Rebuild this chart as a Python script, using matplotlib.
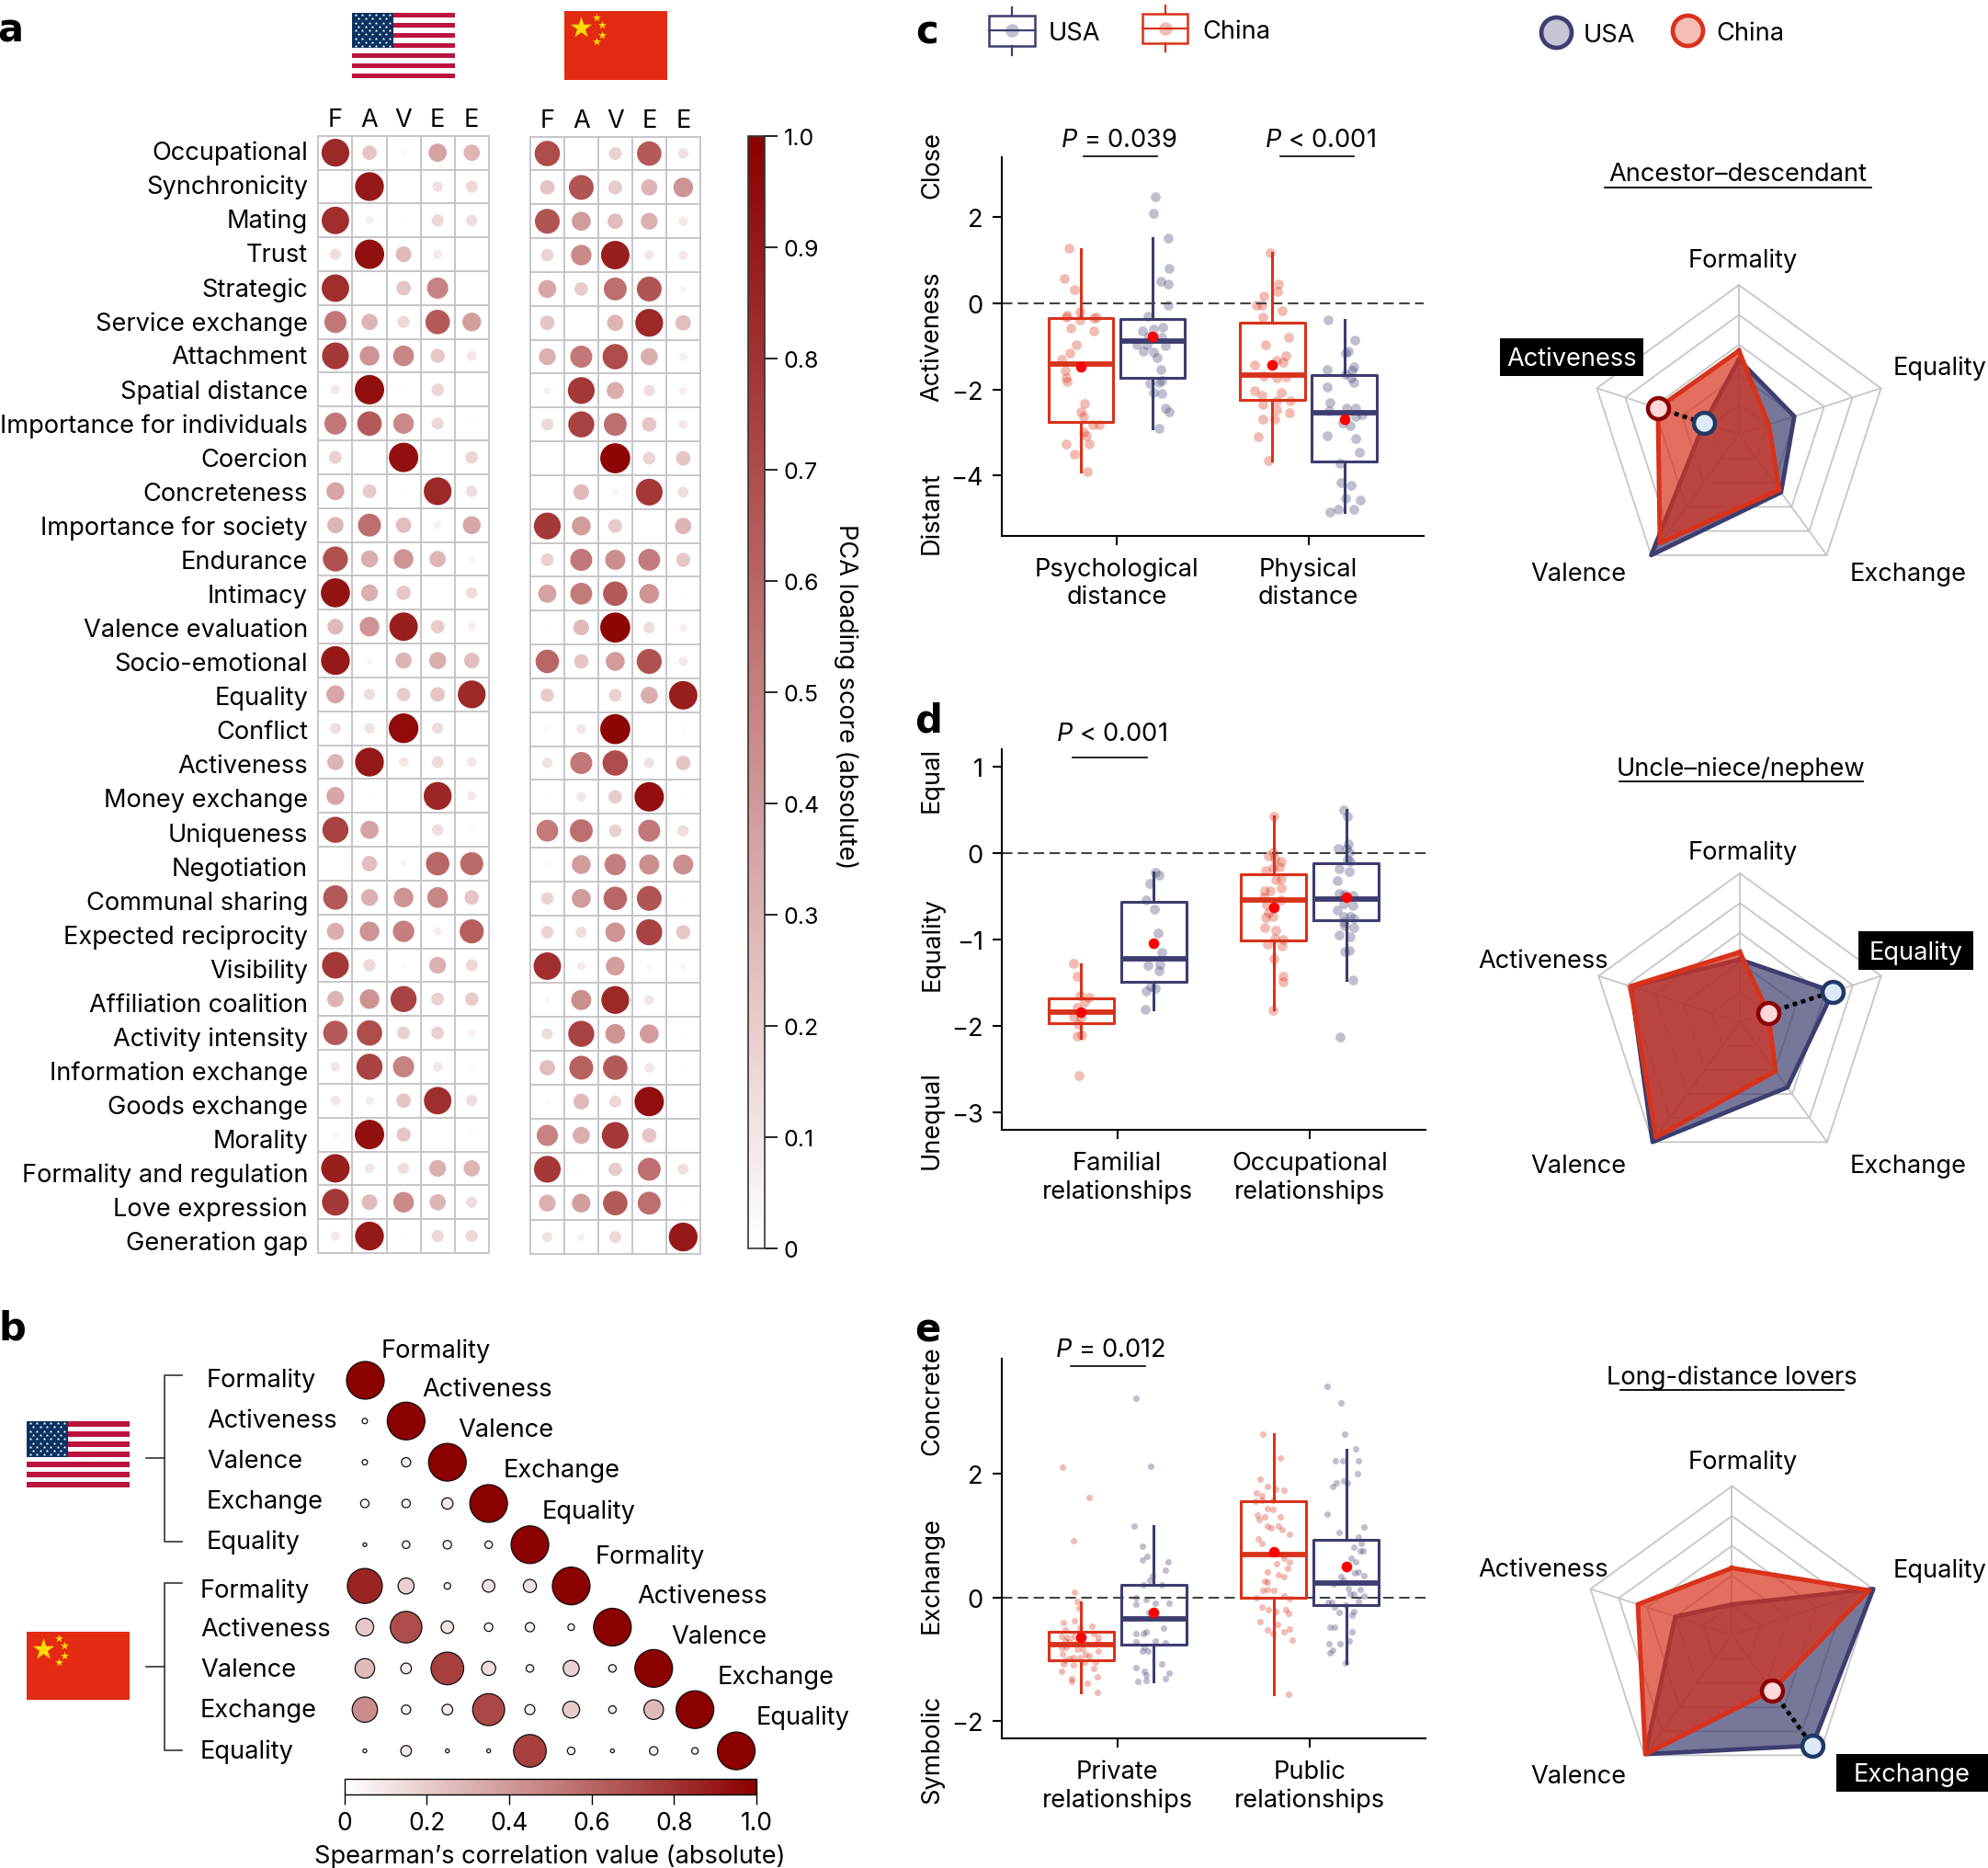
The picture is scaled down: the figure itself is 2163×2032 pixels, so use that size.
import numpy as np
import matplotlib
matplotlib.use("Agg")
import matplotlib.pyplot as plt
from matplotlib.colors import LinearSegmentedColormap, Normalize
from matplotlib.cm import ScalarMappable
from matplotlib.patches import Rectangle

plt.rcParams['font.family'] = ['Inter', 'Noto Sans', 'DejaVu Sans']
plt.rcParams['mathtext.fontset'] = 'custom'
plt.rcParams['mathtext.rm'] = 'Inter'
plt.rcParams['mathtext.it'] = 'Inter:italic'
plt.rcParams['font.size'] = 19.6

W, H = 2163, 2033
FS = 19.6
USA = '#3d3d70'
CHINA = '#d9321b'
GRID = '#c6c6c6'
reds = LinearSegmentedColormap.from_list('reds', ['#ffffff', '#8b0000'])

# panel a, PCA loadings
rows_a = ['Occupational', 'Synchronicity', 'Mating', 'Trust', 'Strategic', 'Service exchange',
          'Attachment', 'Spatial distance', 'Importance for individuals', 'Coercion', 'Concreteness',
          'Importance for society', 'Endurance', 'Intimacy', 'Valence evaluation', 'Socio-emotional',
          'Equality', 'Conflict', 'Activeness', 'Money exchange', 'Uniqueness', 'Negotiation',
          'Communal sharing', 'Expected reciprocity', 'Visibility', 'Affiliation coalition',
          'Activity intensity', 'Information exchange', 'Goods exchange', 'Morality',
          'Formality and regulation', 'Love expression', 'Generation gap']
cols_a = ['F', 'A', 'V', 'E', 'E']
usa_loadings = [
    [.84, .23, .03, .36, .29], [.01, .90, .00, .12, .16], [.82, .07, .01, .16, .14], [.14, .94, .27, .09, .01],
    [.82, .01, .23, .49, .01], [.53, .29, .16, .65, .38], [.78, .42, .47, .22, .10], [.09, .94, .01, .17, .01],
    [.53, .65, .46, .16, .02], [.18, .00, .94, .00, .17], [.35, .21, .02, .84, .14], [.29, .57, .26, .06, .35],
    [.68, .32, .42, .29, .05], [.92, .31, .22, .01, .14], [.27, .42, .88, .20, .07], [.90, .04, .29, .32, .26],
    [.35, .14, .20, .23, .84], [.13, .12, .96, .14, .01], [.29, .90, .10, .15, .10], [.35, .01, .00, .85, .09],
    [.74, .36, .00, .14, .03], [.00, .26, .05, .60, .58], [.65, .31, .42, .47, .23], [.32, .42, .50, .07, .63],
    [.78, .16, .03, .31, .16], [.29, .42, .74, .18, .20], [.65, .70, .18, .18, .07], [.10, .74, .49, .10, .03],
    [.10, .08, .23, .82, .14], [.05, .94, .22, .00, .02], [.88, .10, .14, .31, .29], [.78, .27, .46, .29, .14],
    [.09, .90, .01, .16, .16]]
china_loadings = [
    [.70, .00, .18, .65, .12], [.23, .67, .21, .29, .42], [.67, .39, .26, .31, .09], [.17, .46, .88, .10, .09],
    [.35, .20, .57, .67, .05], [.23, .00, .29, .84, .26], [.31, .53, .70, .32, .07], [.06, .78, .32, .14, .07],
    [.16, .74, .57, .23, .09], [.00, .00, .98, .17, .23], [.00, .27, .05, .78, .13], [.78, .39, .21, .00, .29],
    [.18, .53, .44, .52, .22], [.36, .52, .65, .42, .01], [.01, .27, .98, .14, .07], [.60, .23, .39, .68, .09],
    [.20, .00, .18, .32, .88], [.03, .10, .98, .00, .02], [.12, .53, .70, .12, .23], [.02, .10, .20, .94, .01],
    [.52, .57, .18, .53, .14], [.03, .39, .50, .44, .44], [.17, .39, .60, .67, .01], [.17, .14, .42, .74, .22],
    [.82, .08, .38, .04, .05], [.04, .44, .84, .10, .01], [.14, .74, .42, .39, .01], [.26, .62, .65, .10, .01],
    [.03, .27, .16, .94, .00], [.49, .32, .78, .23, .00], [.78, .01, .20, .57, .13], [.31, .38, .65, .57, .01],
    [.12, .06, .16, .00, .90]]

# panel b, lower triangle of spearman correlations
spearman = [
    [1],
    [.02, 1],
    [.02, .06, 1],
    [.05, .05, .09, 1],
    [.01, .04, .05, .04, 1],
    [.86, .18, .03, .11, .12, 1],
    [.22, .70, .11, .05, .06, .03, 1],
    [.27, .08, .75, .14, .04, .18, .04, 1],
    [.45, .06, .08, .72, .07, .20, .04, .27, 1],
    [.01, .08, .01, .01, .75, .04, .01, .05, .03, 1]]
dims_b = ['Formality', 'Activeness', 'Valence', 'Exchange', 'Equality']

# panels c to e, box stats are q1, median, q3, whisker low, whisker high, mean
box_c = [(-2.76, -1.42, -.34, -3.91, 1.26, -1.48), (-1.72, -.88, -.36, -2.91, 1.51, -.77),
         (-2.24, -1.67, -.44, -3.65, 1.18, -1.43), (-3.67, -2.54, -1.66, -4.85, -.39, -2.70)]
box_d = [(-1.97, -1.84, -1.68, -2.14, -1.29, -1.84), (-1.49, -1.22, -.57, -1.81, -.22, -1.04),
         (-1.01, -.54, -.25, -1.81, .43, -.63), (-.78, -.53, -.12, -1.47, .50, -.51)]
box_e = [(-1.01, -.76, -.56, -1.53, -.08, -.65), (-.76, -.34, .20, -1.36, 1.16, -.24),
         (-.01, .70, 1.56, -1.56, 2.64, .74), (-.12, .23, .93, -1.06, 2.39, .50)]

# jittered points as (offset from box centre, value)
c_psych_china = [(-.06, 1.28), (-.087, .57), (-.035, .32), (-.004, -.20), (-.069, -.27), (-.078, -.31), (-.004, -.39),
                 (.082, -.32), (.069, -.34), (-.053, -.58), (.067, -.64), (-.023, -.96), (-.057, -1.16), (-.099, -1.30),
                 (-.082, -1.55), (-.076, -1.73), (-.071, -1.82), (.018, -2.32), (.002, -2.52), (.016, -2.63), (.064, -2.81),
                 (.098, -2.81), (.014, -3.0), (.03, -3.07), (-.078, -3.26), (.044, -3.26), (-.032, -3.5), (.035, -3.9)]
c_psych_usa = [(.012, 2.48), (.002, 2.10), (.08, 1.52), (.085, .82), (.043, .52), (.082, .44), (.078, -.05), (-.025, -.30),
               (-.053, -.64), (.051, -.56), (.005, -.6), (.046, -.79), (-.021, -.76), (-.082, -.96), (-.032, -.96), (.067, -.98),
               (-.05, -1.11), (.004, -1.13), (.023, -1.25), (.044, -1.53), (-.016, -1.85), (.048, -1.80), (.032, -1.83),
               (.004, -2.08), (.048, -2.10), (.066, -2.44), (.083, -2.53), (.03, -2.91)]
c_phys_china = [(-.009, 1.18), (.03, .44), (.025, .28), (-.046, .18), (.052, -.17), (-.085, -.05), (-.053, -.05), (-.051, -.31),
                (.087, -.80), (-.034, -.96), (.071, -1.21), (.02, -1.32), (.057, -1.36), (-.094, -1.43), (-.046, -1.69),
                (.02, -1.73), (.071, -1.71), (-.094, -2.03), (.044, -2.08), (-.053, -2.13), (.02, -2.26), (.092, -2.26),
                (-.051, -2.35), (.02, -2.47), (.089, -2.55), (-.051, -2.70), (.011, -2.70), (-.073, -3.10), (-.023, -3.65)]
c_phys_usa = [(-.083, -.38), (.053, -.86), (.021, -1.10), (.004, -1.15), (.05, -1.47), (-.09, -1.54), (.039, -1.55), (.004, -1.64),
              (.035, -1.73), (.048, -1.83), (-.092, -1.94), (-.073, -2.31), (-.08, -2.5), (.06, -2.43), (.011, -2.43),
              (.092, -2.59), (.06, -2.63), (-.007, -2.78), (.030, -2.84), (-.089, -3.08), (.057, -3.15), (.078, -3.46),
              (-.021, -3.72), (-.016, -4.16), (.034, -4.24), (.007, -4.53), (.082, -4.58), (-.032, -4.78), (.05, -4.78), (-.073, -4.85)]

d_fam_china = [(-.042, -1.28), (-.021, -1.43), (-.007, -1.65), (.041, -1.67), (.019, -1.72), (-.021, -1.79), (-.042, -1.90),
               (0, -1.91), (-.014, -1.98), (-.019, -2.12), (.004, -2.11), (-.011, -2.58)]
d_fam_usa = [(.007, -.22), (.03, -.26), (-.018, -.35), (-.037, -.54), (.004, -.65), (.025, -.93), (.044, -1.15), (-.028, -1.30),
             (.032, -1.29), (.028, -1.36), (-.014, -1.54), (.009, -1.57), (-.037, -1.60), (-.044, -1.81)]
d_occ_china = [(0, .43), (-.002, .01), (-.028, -.03), (.004, -.06), (.037, -.10), (.028, -.16), (-.004, -.17), (-.042, -.2),
               (.011, -.31), (.037, -.30), (.037, -.40), (-.046, -.44), (-.019, -.44), (-.051, -.51), (.037, -.54), (-.039, -.60),
               (-.002, -.63), (-.030, -.69), (-.005, -.73), (-.042, -.75), (-.048, -.86), (.012, -.90), (.005, -.99), (.046, -1.0),
               (-.035, -1.05), (.042, -1.08), (.002, -1.22), (.049, -1.43), (.046, -1.49), (-.002, -1.82)]
d_occ_usa = [(-.012, .50), (.007, .42), (.012, .11), (-.042, .05), (0, .05), (.016, .01), (.005, -.07), (.023, -.10), (-.035, -.18),
             (.016, -.21), (-.044, -.32), (-.035, -.47), (-.009, -.48), (.035, -.49), (-.014, -.59), (.034, -.61), (-.044, -.66),
             (-.014, -.73), (.023, -.73), (.039, -.76), (-.014, -.80), (.042, -.86), (-.009, -.84), (-.037, -.95), (.021, -.97),
             (-.007, -1.14), (.018, -1.13), (.035, -1.47), (-.034, -2.13)]

e_pri_china = [(-.099, 2.11), (.042, 1.62), (-.041, .92), (-.037, .09), (-.021, -.06), (-.012, -.17), (-.034, -.37), (-.093, -.41),
               (.055, -.47), (-.085, -.52), (-.005, -.49), (.065, -.58), (-.102, -.63), (-.071, -.65), (-.041, -.63), (.088, -.65),
               (-.083, -.71), (-.058, -.72), (-.023, -.72), (.083, -.72), (-.102, -.81), (-.079, -.81), (-.023, -.83), (.009, -.84),
               (.088, -.87), (-.099, -.91), (.021, -.92), (.039, -.94), (-.041, -.97), (-.005, -.97), (-.085, -1.01), (-.058, -.98),
               (.074, -1.05), (-.093, -1.08), (-.041, -1.09), (.018, -1.05), (.067, -1.15), (-.102, -1.20), (-.048, -1.31),
               (-.049, -1.36), (.086, -1.29), (.03, -1.38), (.086, -1.53)]
e_pri_usa = [(-.092, 3.23), (-.014, 2.13), (-.099, 1.16), (-.056, .83), (-.032, .67), (-.058, .60), (.074, .57), (.062, .44),
             (-.004, .35), (-.021, .28), (-.055, .20), (.044, .20), (-.09, 0), (-.037, -.04), (.007, -.10), (-.093, -.11),
             (.079, -.09), (-.023, -.24), (.053, -.49), (-.09, -.58), (-.037, -.55), (-.055, -.59), (-.09, -.72), (.011, -.70),
             (.06, -.74), (-.046, -.81), (-.058, -.87), (-.028, -.87), (.044, -1.08), (-.093, -1.13), (-.049, -1.19), (.079, -1.22),
             (-.037, -1.25), (.062, -1.31), (-.081, -1.36), (-.041, -1.34)]
e_pub_china = [(-.056, 2.64), (.035, 2.26), (-.069, 1.91), (-.035, 1.79), (.009, 1.75), (.053, 1.74), (-.092, 1.69), (-.062, 1.64),
               (-.097, 1.56), (-.062, 1.57), (-.004, 1.57), (-.032, 1.44), (-.004, 1.42), (-.085, 1.33), (.035, 1.30), (-.049, 1.30),
               (-.076, 1.26), (-.032, 1.16), (-.012, 1.12), (.025, 1.16), (.042, 1.09), (.083, 1.03), (-.079, .95), (-.06, .88),
               (.049, .70), (.083, .58), (.053, .64), (.014, .55), (.071, .47), (-.035, .41), (.026, .37), (.053, .34), (-.048, .26),
               (-.032, .25), (-.032, .13), (-.058, .11), (0, .12), (.053, .02), (-.092, 0), (.083, -.02), (-.062, -.15), (-.026, -.20),
               (.009, -.22), (.064, -.20), (.079, -.26), (-.071, -.39), (.018, -.44), (-.035, -.53), (-.005, -.58), (.053, -.56),
               (.082, -.51), (.097, -.69), (.079, -1.57)]
e_pub_usa = [(-.099, 3.42), (-.026, 3.15), (-.007, 2.65), (.048, 2.40), (-.056, 2.21), (-.019, 2.22), (.065, 2.21), (.058, 2.01),
             (-.014, 1.89), (.004, 1.86), (-.049, 1.85), (-.072, 1.80), (-.099, 1.35), (.09, 1.14), (-.035, 1.05), (.065, .98),
             (.079, .88), (.039, .82), (.074, .75), (.086, .76), (.026, .63), (.051, .57), (.065, .42), (.044, .40), (.092, .36),
             (-.028, .34), (-.014, .28), (-.067, .22), (.074, .13), (.012, .14), (.021, .05), (.039, .05), (.092, .03), (.062, -.06),
             (-.093, -.08), (-.076, -.08), (-.062, -.16), (-.002, -.13), (-.037, -.24), (.039, -.22), (.030, -.28), (-.085, -.48),
             (-.062, -.48), (.030, -.55), (-.09, -.75), (-.032, -.75), (.016, -.70), (-.072, -.85), (-.085, -.90), (-.004, -1.06)]

# radar values, order is formality, equality, exchange, valence, activeness
radar_dims = ['Formality', 'Equality', 'Exchange', 'Valence', 'Activeness']
anc_usa = [.50, .39, .48, 1.0, .245]
anc_china = [.56, .21, .46, .90, .57]
unc_usa = [.42, .66, .545, 1.0, .77]
unc_china = [.47, .20, .41, .96, .775]
lov_usa = [.205, 1.0, .92, .99, .40]
lov_china = [.45, .97, .46, .99, .665]

fig = plt.figure(figsize=(W / 100, H / 100), dpi=100)


def px_axes(x0, y0, x1, y1, **kw):
    return fig.add_axes([x0 / W, 1 - y1 / H, (x1 - x0) / W, (y1 - y0) / H], **kw)


# overlay in pixel coordinates for labels, flags and brackets
bg = px_axes(0, 0, W, H, zorder=10)
bg.set_xlim(0, W)
bg.set_ylim(H, 0)
bg.axis('off')
bg.patch.set_alpha(0)


def label(x, y, s, ha='center', **kw):
    kw.setdefault('fontsize', FS)
    bg.text(x, y + 1.5, s, ha=ha, va='center', **kw)


def flag_usa(x0, y0, x1, y1):
    h = (y1 - y0) / 13
    for i in range(13):
        bg.add_patch(Rectangle((x0, y0 + i * h), x1 - x0, h, color='#bb133e' if i % 2 == 0 else 'white', lw=0))
    cw, ch = (x1 - x0) * .4, h * 7
    bg.add_patch(Rectangle((x0, y0), cw, ch, color='#0a3161', lw=0))
    for r in range(9):
        n = 6 if r % 2 == 0 else 5
        xs = x0 + cw * (np.arange(n) + (.5 if r % 2 == 0 else 1)) / 6
        bg.scatter(xs, np.full(n, y0 + ch * (r + .5) / 9), s=7, marker='*', color='white', lw=0, zorder=3)


def flag_china(x0, y0, x1, y1):
    bg.add_patch(Rectangle((x0, y0), x1 - x0, y1 - y0, color='#e22b12', lw=0))
    w, h = x1 - x0, y1 - y0
    bg.scatter([x0 + .16 * w], [y0 + .25 * h], s=w * 2.8, marker='*', color='#ffde00', lw=0, zorder=3)
    bg.scatter(x0 + np.array([.31, .37, .37, .31]) * w, y0 + np.array([.10, .20, .35, .45]) * h,
               s=w * .4, marker='*', color='#ffde00', lw=0, zorder=3)


# panel a
def dot_grid(rect, values):
    ax = px_axes(*rect)
    vals = np.array(values)
    yy, xx = np.mgrid[:vals.shape[0], :vals.shape[1]]
    ax.scatter(xx.ravel(), yy.ravel(), s=(33 * .72) ** 2 * vals.ravel(), c=vals.ravel(), cmap=reds,
               norm=Normalize(0, 1), lw=0, zorder=3)
    ax.set_xlim(-.5, 4.5)
    ax.set_ylim(vals.shape[0] - .5, -.5)
    ax.xaxis.tick_top()
    ax.set_xticks(range(5), cols_a)
    ax.set_yticks([])
    ax.set_xticks(np.arange(.5, 4), minor=True)
    ax.set_yticks(np.arange(.5, vals.shape[0] - 1), minor=True)
    ax.grid(which='minor', color=GRID, lw=1.4)
    ax.tick_params(which='both', length=0, labelsize=FS, pad=3.5)
    for s in ax.spines.values():
        s.set_color(GRID)
        s.set_linewidth(1.4)
    return ax


dot_grid((346.4, 148.7, 531.8, 1364), usa_loadings)
dot_grid((577, 149.6, 761.8, 1365), china_loadings)
for i, s in enumerate(rows_a):
    label(335, 165.5 + i * 37.07, s, ha='right')
flag_usa(383, 15, 495, 86)
flag_china(614, 12.5, 726, 88)

cax = px_axes(814, 148.7, 831.8, 1358.6)
cb = fig.colorbar(ScalarMappable(Normalize(0, 1), reds), cax=cax)
cb.set_ticks(np.arange(0, 1.01, .1), labels=['0'] + ['%.1f' % v for v in np.arange(.1, 1.01, .1)])
cb.ax.tick_params(length=10, width=1.2, labelsize=18, pad=5)
cb.outline.set_linewidth(1.2)
cb.outline.set_edgecolor('#333333')
label(920, 756, 'PCA loading score (absolute)', rotation=270)

# panel b
axb = px_axes(374.5, 1479.5, 823.5, 1928, zorder=2)
for i, row in enumerate(spearman):
    v = np.array(row)
    axb.scatter(np.arange(len(v)), np.full(len(v), i), s=(41 * .72) ** 2 * v, c=v, cmap=reds,
                norm=Normalize(0, 1), edgecolors='#111111', linewidths=.9)
axb.set_xlim(-.5, 9.5)
axb.set_ylim(9.5, -.5)
axb.axis('off')

flag_usa(29, 1547, 141, 1618.6)
flag_china(29, 1776, 141, 1850)
for y, s in zip([1500, 1545, 1589, 1633, 1676], dims_b):
    label(225, y, s, ha='left')
for y, s in zip([1729, 1772, 1816, 1860, 1904], dims_b):
    label(218, y, s, ha='left')
diag_x = [415, 459.6, 498, 547.5, 590, 648, 693, 730.5, 781, 823]
diag_y = [1468, 1510.7, 1555, 1599, 1643, 1692.5, 1736, 1780, 1824, 1867.6]
for x, y, s in zip(diag_x, diag_y, dims_b * 2):
    label(x, y, s, ha='left')
for top, mid, bot in [(1496.6, 1587, 1678), (1723.4, 1814, 1905)]:
    bg.plot([198, 179, 179, 198], [top, top, bot, bot], color='#333333', lw=1.2)
    bg.plot([159, 179], [mid, mid], color='#333333', lw=1.2)

cbx = px_axes(374.5, 1936, 823, 1952.5)
cb2 = fig.colorbar(ScalarMappable(Normalize(0, 1), reds), cax=cbx, orientation='horizontal')
cb2.set_ticks(np.arange(0, 1.01, .2), labels=['0', '0.2', '0.4', '0.6', '0.8', '1.0'])
cb2.ax.tick_params(length=8, width=1, labelsize=19, pad=5)
cb2.outline.set_linewidth(1)
label(598, 2018, 'Spearman\u2019s correlation value (absolute)')


# panels c, d, e
def box_panel(rect, ylim, xlim, yticks, stats, points, cats, msize, hlw=2.2):
    ax = px_axes(*rect)
    pos = [-.188, .188, 1 - .188, 1 + .188]
    for p, pts, c in zip(pos, points, [CHINA, USA, CHINA, USA]):
        arr = np.array(pts)
        ax.scatter(p + arr[:, 0], arr[:, 1], s=msize, color=c, alpha=.33, lw=0, zorder=2, clip_on=False)
    for p, st, c in zip(pos, stats, [CHINA, USA, CHINA, USA]):
        q1, med, q3, lo, hi, mean = st
        ax.bxp([dict(q1=q1, med=med, q3=q3, whislo=lo, whishi=hi, fliers=[])], positions=[p], widths=.338,
               showcaps=False, showfliers=False, manage_ticks=False, zorder=3,
               boxprops=dict(color=c, lw=hlw), whiskerprops=dict(color=c, lw=hlw),
               medianprops=dict(color=c, lw=hlw * 1.9, solid_capstyle='butt'))
        ax.scatter([p], [mean], s=70, color='#ff0000', lw=0, zorder=4)
    ax.axhline(0, color='#444444', lw=1.5, ls=(0, (5.5, 2.8)), zorder=2.5)
    ax.set_xlim(*xlim)
    ax.set_ylim(*ylim)
    ax.set_yticks(yticks)
    ax.set_xticks([0, 1], cats)
    ax.spines[['top', 'right']].set_visible(False)
    ax.spines[['left', 'bottom']].set_linewidth(1.5)
    ax.tick_params(length=7.5, width=1.5, labelsize=FS, pad=7)
    ax.tick_params(axis='x', pad=9)
    return ax


box_panel((1090, 172, 1548.6, 583.7), (-5.4, 3.4), (-.6, 1.6), [2, 0, -2, -4], box_c,
          [c_psych_china, c_psych_usa, c_phys_china, c_phys_usa], ['Psychological\ndistance', 'Physical\ndistance'], 60)
box_panel((1090, 816.4, 1551, 1230), (-3.205, 1.198), (-.6, 1.6), [1, 0, -1, -2, -3], box_d,
          [d_fam_china, d_fam_usa, d_occ_china, d_occ_usa], ['Familial\nrelationships', 'Occupational\nrelationships'], 60)
box_panel((1090, 1478.6, 1551, 1892), (-2.28, 3.87), (-.6, 1.6), [2, 0, -2], box_e,
          [e_pri_china, e_pri_usa, e_pub_china, e_pub_usa], ['Private\nrelationships', 'Public\nrelationships'], 26)

for y, s in zip([178, 365, 556.5, 847, 1025.5, 1217, 1522, 1711.6, 1901],
                ['Close', 'Activeness', 'Distant', 'Equal', 'Equality', 'Unequal', 'Concrete', 'Exchange', 'Symbolic']):
    label(1014, y, s, rotation=90)

for x, y, s in [(1217.5, 152, r'$\mathit{P}$ = 0.039'), (1436.5, 152, r'$\mathit{P}$ < 0.001'),
                (1209.8, 797.5, r'$\mathit{P}$ < 0.001'), (1208, 1467.7, r'$\mathit{P}$ = 0.012')]:
    label(x, y, s)
for x0, x1, y in [(1178.7, 1259, 171), (1392.5, 1473, 171), (1166.5, 1248, 824.6), (1165, 1246, 1486.5)]:
    bg.plot([x0, x1], [y, y], color='black', lw=1.2)

# legend for the boxes
for x0, x1, cx, y0, y1, wl, wh, my, c, txt, tx in [
        (1076, 1126, 1101, 18, 51, 8.7, 60.7, 34, USA, 'USA', 1141),
        (1242.7, 1292, 1267.5, 16, 47.7, 6.5, 57, 31.7, CHINA, 'China', 1308)]:
    bg.plot([cx, cx], [wl, y0], color=c, lw=1.6)
    bg.plot([cx, cx], [y1, wh], color=c, lw=1.6)
    bg.add_patch(Rectangle((x0, y0), x1 - x0, y1 - y0, fc='none', ec=c, lw=1.8))
    bg.plot([x0, x1], [my, my], color=c, lw=1.6)
    bg.scatter([cx], [my], s=110, color=c, alpha=.32, lw=0)
    label(tx, my + 2, txt, ha='left')

# legend for the radars
for cx, cy, tx, fc, ec, txt in [(1692.6, 35.6, 1723, '#c5c5d5', USA, 'USA'), (1836, 34, 1867, '#f7bdb5', CHINA, 'China')]:
    bg.scatter([cx], [cy], s=(33 * .72) ** 2, fc=fc, ec=ec, lw=3.4)
    label(tx, cy + 1.5, txt, ha='left')


# radars
def radar(cx, cy, R, usa_vals, china_vals, hl):
    s = R * 1.1
    ax = px_axes(cx - s, cy - s, cx + s, cy + s, polar=True)
    ax.set_theta_zero_location('N')
    ax.set_theta_direction(-1)
    ax.set_ylim(0, 1.1)
    ax.axis('off')
    th = np.arange(6) * 2 * np.pi / 5
    for lev in [.2, .4, .6, .8, 1.0]:
        ax.plot(th, np.full(6, lev), color=GRID, lw=1.3, zorder=1)
    for t in th[:5]:
        ax.plot([t, t], [0, 1], color=GRID, lw=1.3, zorder=1)
    u = np.append(usa_vals, usa_vals[0])
    c = np.append(china_vals, china_vals[0])
    ax.fill(th, u, color=USA, alpha=.7, lw=0, zorder=2)
    ax.plot(th, u, color=USA, lw=3.4, zorder=2.1)
    ax.fill(th, c, color=CHINA, alpha=.7, lw=0, zorder=3)
    ax.plot(th, c, color=CHINA, lw=3.6, zorder=3.1)
    ax.plot([th[hl], th[hl]], [china_vals[hl], usa_vals[hl]], color='black', lw=3.4, ls=(0, (1, 1)), zorder=4)
    ax.plot([th[hl]], [china_vals[hl]], 'o', ms=16.5, mfc='#fdd8d8', mec='#8b0000', mew=3.2, zorder=5)
    ax.plot([th[hl]], [usa_vals[hl]], 'o', ms=16.5, mfc='#dde9f6', mec='#1f3864', mew=3.2, zorder=5)
    return ax


radar(1892, 473.5, 162.5, anc_usa, anc_china, 4)
radar(1893, 1112.6, 161.6, unc_usa, unc_china, 1)
radar(1884.4, 1779.5, 161.8, lov_usa, lov_china, 2)


def black_label(x0, y0, x1, y1, s):
    bg.add_patch(Rectangle((x0, y0), x1 - x0, y1 - y0, color='black', lw=0))
    label((x0 + x1) / 2, (y0 + y1) / 2, s, color='white')


label(1891, 188.6, 'Ancestor\u2013descendant')
bg.plot([1746, 2035.5], [204.7, 204.7], color='black', lw=1.3)
label(1896.6, 282, 'Formality')
label(2060, 399, 'Equality', ha='left')
black_label(1631.6, 368.6, 1788, 410, 'Activeness')
label(1717.4, 623.6, 'Valence')
label(2076.5, 623.6, 'Exchange')

label(1894.4, 835, 'Uncle\u2013niece/nephew')
bg.plot([1762.3, 2027.3], [850.7, 850.7], color='black', lw=1.3)
label(1896.6, 926.7, 'Formality')
label(1750, 1045, 'Activeness', ha='right')
black_label(2022, 1014.3, 2146.5, 1056, 'Equality')
label(1717.4, 1268, 'Valence')
label(2076.5, 1268, 'Exchange')

label(1884.4, 1497, 'Long-distance lovers')
bg.plot([1763.4, 2005.8], [1513.4, 1513.4], color='black', lw=1.3)
label(1896.6, 1589, 'Formality')
label(1750, 1707, 'Activeness', ha='right')
label(2060, 1707, 'Equality', ha='left')
label(1717.4, 1932, 'Valence')
black_label(1998, 1908.7, 2163, 1949.7, 'Exchange')

# panel letters
for x, y, s in [(11, 34, 'a'), (13, 1446, 'b'), (1009, 36, 'c'), (1010, 785, 'd'), (1009, 1448, 'e')]:
    bg.text(x, y, s, ha='center', va='center', fontsize=30, fontweight='bold', family='DejaVu Sans')

fig.savefig('out.png', dpi=100)
